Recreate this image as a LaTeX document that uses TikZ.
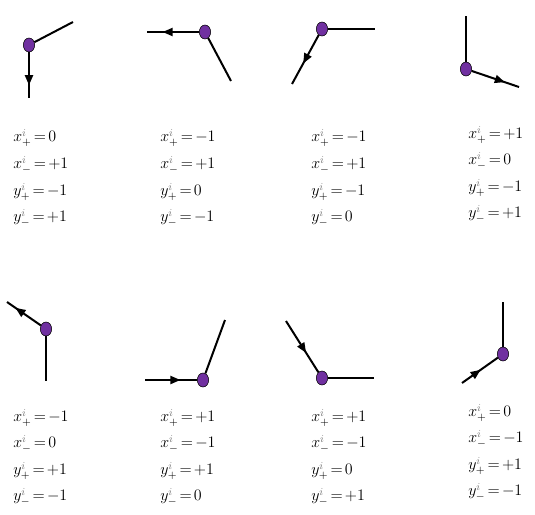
\documentclass[tikz,border=0pt]{standalone}
\usetikzlibrary{shapes.geometric,arrows.meta,decorations.markings}
\definecolor{vertexpurple}{HTML}{7030A0}
\thickmuskip=2.5mu
\medmuskip=1mu
\newcommand{\xp}{x_{+}^{\textcolor{gray}{i}}}
\newcommand{\xm}{x_{-}^{\textcolor{gray}{i}}}
\newcommand{\yp}{y_{+}^{\textcolor{gray}{i}}}
\newcommand{\ym}{y_{-}^{\textcolor{gray}{i}}}
\tikzset{midarrow/.style={postaction={decorate}, decoration={markings, mark=at position #1 with {\arrow{Triangle[length=7.5pt,width=6pt]}}}}}
\begin{document}
\begin{tikzpicture}[x=0.75pt,y=-0.75pt]
    \tikzstyle{vertex} = [ellipse, draw=black, fill=vertexpurple, line width=0.4pt, minimum width=8.5pt, minimum height=10.5pt, inner sep=0pt]
    \tikzstyle{edge} = [line width=1.5pt, black]
    \tikzstyle{value} = [anchor=west, inner sep=0pt, font=\fontsize{11.5}{13}\selectfont]

    \useasboundingbox (0,0) rectangle (535,514);

      % top row
      \draw
        (29,45) node[vertex] (v1){}
        (205,32) node[vertex] (v2){}
        (322,29) node[vertex] (v3){}
        (466,69) node[vertex] (v4){};
      \coordinate (a1) at (73,22);
      \coordinate (b1) at (29,98);
      \coordinate (a2) at (231,81);
      \coordinate (b2) at (147,32);
      \coordinate (a3) at (375,29);
      \coordinate (b3) at (292,84);
      \coordinate (a4) at (466,16);
      \coordinate (b4) at (519,87);

      % bottom row
      \draw
        (46,329) node[vertex] (v5){}
        (203,380) node[vertex] (v6){}
        (322,378) node[vertex] (v7){}
        (503,354) node[vertex] (v8){};
      \coordinate (a5) at (46,381);
      \coordinate (b5) at (7,302);
      \coordinate (a6) at (225,320);
      \coordinate (b6) at (145,380);
      \coordinate (a7) at (374,378);
      \coordinate (b7) at (286,321);
      \coordinate (a8) at (503,302);
      \coordinate (b8) at (462,383);

      \begin{scope}[edge]
        \draw (v1) -- (a1);
        \draw[midarrow=0.72] (v1) -- (b1);
        \draw (v2) -- (a2);
        \draw[midarrow=0.7] (v2) -- (b2);
        \draw (v3) -- (a3);
        \draw[midarrow=0.58] (v3) -- (b3);
        \draw (v4) -- (a4);
        \draw[midarrow=0.7] (v4) -- (b4);
        \draw (v5) -- (a5);
        \draw[midarrow=0.75] (v5) -- (b5);
        \draw (v6) -- (a6);
        \draw[midarrow=0.68] (b6) -- (v6);
        \draw (v7) -- (a7);
        \draw[midarrow=0.62] (b7) -- (v7);
        \draw (v8) -- (a8);
        \draw[midarrow=0.52] (b8) -- (v8);
      \end{scope}

      % values
      \draw
        (13,138) node[value] (l11){$\xp=0$}
        (13,165) node[value] (l12){$\xm=+1$}
        (13,192) node[value] (l13){$\yp=-1$}
        (13,218) node[value] (l14){$\ym=+1$}
        (160,138) node[value] (l21){$\xp=-1$}
        (160,165) node[value] (l22){$\xm=+1$}
        (160,192) node[value] (l23){$\yp=0$}
        (160,218) node[value] (l24){$\ym=-1$}
        (311,138) node[value] (l31){$\xp=-1$}
        (311,165) node[value] (l32){$\xm=+1$}
        (311,192) node[value] (l33){$\yp=-1$}
        (311,218) node[value] (l34){$\ym=0$}
        (468,135) node[value] (l41){$\xp=+1$}
        (468,161) node[value] (l42){$\xm=0$}
        (468,188) node[value] (l43){$\yp=-1$}
        (468,214) node[value] (l44){$\ym=+1$}
        (13,418) node[value] (l51){$\xp=-1$}
        (13,444) node[value] (l52){$\xm=0$}
        (13,471) node[value] (l53){$\yp=+1$}
        (13,497) node[value] (l54){$\ym=-1$}
        (160,418) node[value] (l61){$\xp=+1$}
        (160,444) node[value] (l62){$\xm=-1$}
        (160,471) node[value] (l63){$\yp=+1$}
        (160,497) node[value] (l64){$\ym=0$}
        (311,418) node[value] (l71){$\xp=+1$}
        (311,444) node[value] (l72){$\xm=-1$}
        (311,471) node[value] (l73){$\yp=0$}
        (311,497) node[value] (l74){$\ym=+1$}
        (468,413) node[value] (l81){$\xp=0$}
        (468,439) node[value] (l82){$\xm=-1$}
        (468,466) node[value] (l83){$\yp=+1$}
        (468,492) node[value] (l84){$\ym=-1$};
    \end{tikzpicture}
\end{document}
